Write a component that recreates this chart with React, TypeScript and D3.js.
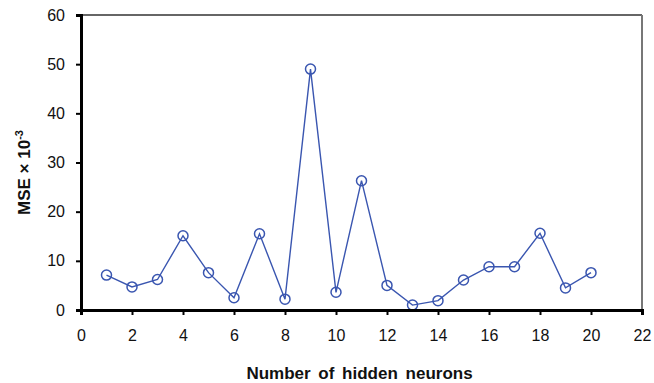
import { useEffect, useRef } from "react";
import * as d3 from "d3";

const neurons = [1, 2, 3, 4, 5, 6, 7, 8, 9, 10, 11, 12, 13, 14, 15, 16, 17, 18, 19, 20];
const mse = [7.1, 4.7, 6.2, 15.1, 7.6, 2.5, 15.5, 2.2, 49.0, 3.6, 26.3, 5.0, 1.0, 1.9, 6.1, 8.8, 8.8, 15.6, 4.5, 7.6];
const xTicks = [0, 2, 4, 6, 8, 10, 12, 14, 16, 18, 20, 22];
const yTicks = [0, 10, 20, 30, 40, 50, 60];

const W = 654;
const H = 383;
const M = { top: 15, right: 12, bottom: 73, left: 81 };
const LINE = "#3a56b0";
const FONT = "'Liberation Sans', Arial, sans-serif";

export default function App() {
  const xRef = useRef<SVGGElement>(null);
  const yRef = useRef<SVGGElement>(null);

  const iw = W - M.left - M.right;
  const ih = H - M.top - M.bottom;
  const x = d3.scaleLinear().domain([0, 22]).range([0, iw]);
  const y = d3.scaleLinear().domain([0, 60]).range([ih, 0]);

  const pts = neurons.map((n, i) => ({ n, v: mse[i] }));
  const line = d3
    .line<{ n: number; v: number }>()
    .x((d) => x(d.n))
    .y((d) => y(d.v));

  useEffect(() => {
    if (xRef.current) {
      d3.select(xRef.current)
        .call(d3.axisBottom(x).tickValues(xTicks).tickSize(5).tickPadding(15))
        .call((g) => g.select(".domain").attr("stroke", "#000").attr("stroke-width", 3))
        .call((g) => g.selectAll(".tick line").attr("stroke", "#000").attr("stroke-width", 2))
        .call((g) =>
          g
            .selectAll(".tick text")
            .attr("fill", "#111")
            .attr("font-size", 16)
            .attr("font-family", FONT)
        );
    }
    if (yRef.current) {
      d3.select(yRef.current)
        .call(d3.axisLeft(y).tickValues(yTicks).tickSize(5).tickPadding(11))
        .call((g) => g.select(".domain").attr("stroke", "#000").attr("stroke-width", 3))
        .call((g) => g.selectAll(".tick line").attr("stroke", "#000").attr("stroke-width", 2))
        .call((g) =>
          g
            .selectAll(".tick text")
            .attr("fill", "#111")
            .attr("font-size", 16)
            .attr("font-family", FONT)
        );
    }
  }, []);

  return (
    <svg
      width={W}
      height={H}
      style={{ position: "absolute", left: 0, top: 0, background: "#fff" }}
    >
      <g transform={`translate(${M.left},${M.top})`}>
        {/* frame: top + right */}
        <line x1={0} y1={0} x2={iw} y2={0} stroke="#333" strokeWidth={1.5} />
        <line x1={iw} y1={0} x2={iw} y2={ih} stroke="#777" strokeWidth={2} />

        <path d={line(pts) ?? ""} fill="none" stroke={LINE} strokeWidth={1.4} />
        {pts.map((d) => (
          <circle
            key={d.n}
            cx={x(d.n)}
            cy={y(d.v)}
            r={5}
            fill="none"
            stroke={LINE}
            strokeWidth={1.5}
          />
        ))}

        <g ref={xRef} transform={`translate(0,${ih})`} />
        <g ref={yRef} />
      </g>

      <text
        x={M.left + iw / 2 - 2}
        y={379}
        textAnchor="middle"
        fontFamily={FONT}
        fontSize={17}
        fontWeight="bold"
        wordSpacing={3}
        fill="#111"
      >
        Number of hidden neurons
      </text>
      <text
        transform={`translate(30,${M.top + ih / 2 + 10}) rotate(-90)`}
        textAnchor="middle"
        fontFamily={FONT}
        fontSize={17}
        fontWeight="bold"
        fill="#111"
      >
        MSE × 10<tspan dy={-7} fontSize={11}>-3</tspan>
      </text>
    </svg>
  );
}
